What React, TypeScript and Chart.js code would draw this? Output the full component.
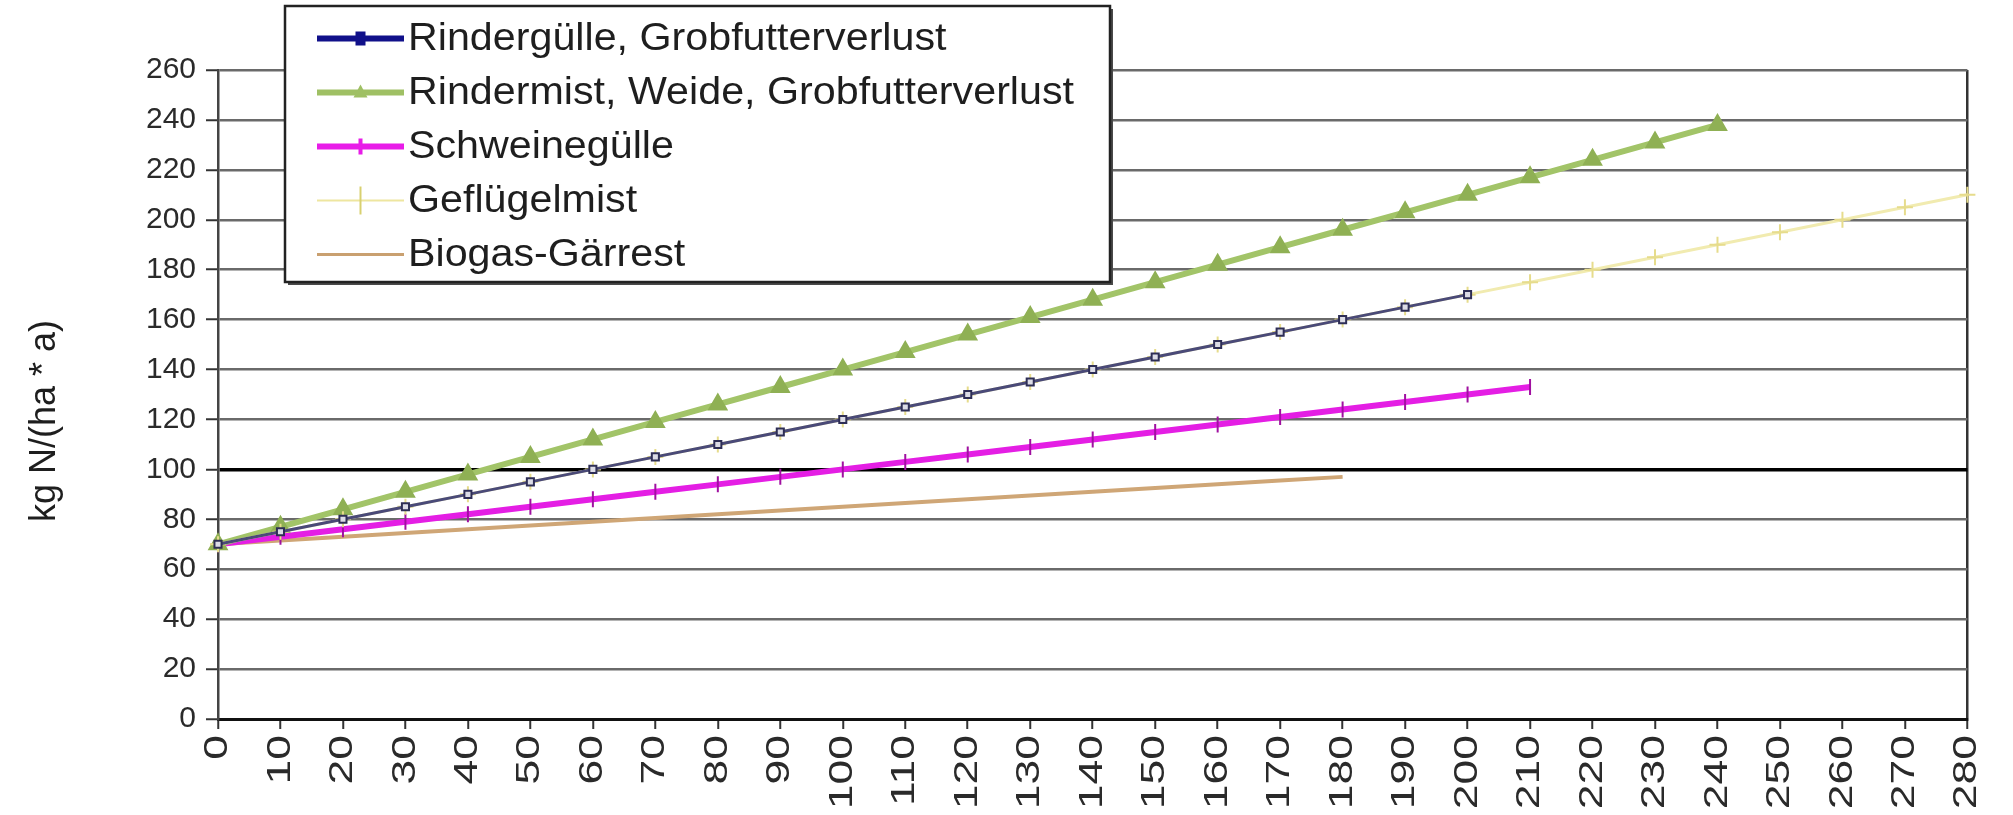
import React, { useEffect, useRef } from 'react';
import { Chart, registerables } from 'chart.js';

Chart.register(...registerables);

// ---------- data ----------
const xLabels = ['0', '10', '20', '30', '40', '50', '60', '70', '80', '90', '100', '110', '120', '130', '140', '150', '160', '170', '180', '190', '200', '210', '220', '230', '240', '250', '260', '270', '280'];

const rinderguelle = [70, 75, 80, 85, 90, 95, 100, 105, 110, 115, 120, 125, 130, 135, 140, 145, 150, 155, 160, 165, 170];
const rindermist = [70, 77, 84, 91, 98, 105, 112, 119, 126, 133, 140, 147, 154, 161, 168, 175, 182, 189, 196, 203, 210, 217, 224, 231, 238];
const schweineguelle = [70, 73, 76, 79, 82, 85, 88, 91, 94, 97, 100, 103, 106, 109, 112, 115, 118, 121, 124, 127, 130, 133];
const gefluegelmist = [70, 75, 80, 85, 90, 95, 100, 105, 110, 115, 120, 125, 130, 135, 140, 145, 150, 155, 160, 165, 170, 175, 180, 185, 190, 195, 200, 205, 210];
const biogas = [70, 71.5, 73, 74.5, 76, 77.5, 79, 80.5, 82, 83.5, 85, 86.5, 88, 89.5, 91, 92.5, 94, 95.5, 97];

const seriesNames = ['Rindergülle, Grobfutterverlust', 'Rindermist, Weide, Grobfutterverlust', 'Schweinegülle', 'Geflügelmist', 'Biogas-Gärrest'];

const yMin = 0;
const yMax = 260;
const yStep = 20;
const yTitle = 'kg N/(ha * a)';

const FONT = '"Liberation Sans", Arial, sans-serif';
const X_LABEL_STRETCH = 1.35;

// ---------- plugins ----------
const legendStyles = [
  { line: '#10108a', width: 6, marker: 'rect' },
  { line: '#9fc064', width: 6, marker: 'tri' },
  { line: '#e81ce8', width: 6, marker: 'vbar' },
  { line: '#eee6a0', width: 2, marker: 'cross' },
  { line: '#c9a070', width: 3, marker: 'none' },
];

const boxLegend = {
  id: 'boxLegend',
  afterDraw(chart: any) {
    const ctx = chart.ctx;
    const ca = chart.chartArea;
    const x0 = ca.left + 67;
    const y0 = 6;
    const w = 825;
    const h = 276;
    ctx.save();
    ctx.fillStyle = '#4a4a4a';
    ctx.fillRect(x0 + 3, y0 + 3, w, h);
    ctx.fillStyle = '#ffffff';
    ctx.fillRect(x0, y0, w, h);
    ctx.strokeStyle = '#222';
    ctx.lineWidth = 2.5;
    ctx.strokeRect(x0, y0, w, h);
    chart.data.datasets.forEach((ds: any, i: number) => {
      const st = legendStyles[i];
      const cy = y0 + 32.5 + i * 54;
      const lx1 = x0 + 32;
      const lx2 = x0 + 119;
      const mx = (lx1 + lx2) / 2;
      ctx.strokeStyle = st.line;
      ctx.lineWidth = st.width;
      ctx.beginPath();
      ctx.moveTo(lx1, cy);
      ctx.lineTo(lx2, cy);
      ctx.stroke();
      ctx.fillStyle = st.line;
      if (st.marker === 'rect') {
        ctx.fillRect(mx - 5, cy - 7, 10, 14);
      } else if (st.marker === 'tri') {
        ctx.beginPath();
        ctx.moveTo(mx, cy - 8);
        ctx.lineTo(mx + 7, cy + 5);
        ctx.lineTo(mx - 7, cy + 5);
        ctx.closePath();
        ctx.fill();
      } else if (st.marker === 'vbar') {
        ctx.fillRect(mx - 2, cy - 8, 4, 16);
      } else if (st.marker === 'cross') {
        ctx.lineWidth = 2;
        ctx.strokeStyle = '#d8d070';
        ctx.beginPath();
        ctx.moveTo(mx, cy - 14);
        ctx.lineTo(mx, cy + 14);
        ctx.stroke();
      }
      ctx.save();
      ctx.translate(x0 + 123, cy);
      ctx.scale(1.085, 1);
      ctx.font = `38px ${FONT}`;
      ctx.fillStyle = '#1e1e1e';
      ctx.textBaseline = 'middle';
      ctx.textAlign = 'left';
      ctx.fillText(ds.label, 0, 1);
      ctx.restore();
    });
    ctx.restore();
  },
};

const yTitlePlugin = {
  id: 'yTitlePlugin',
  afterDraw(chart: any) {
    const ctx = chart.ctx;
    ctx.save();
    ctx.translate(45, 421);
    ctx.rotate(-Math.PI / 2);
    ctx.font = `36px ${FONT}`;
    ctx.fillStyle = '#1e1e1e';
    ctx.textAlign = 'center';
    ctx.textBaseline = 'middle';
    ctx.fillText(yTitle, 0, 0);
    ctx.restore();
  },
};

// stretch the rotated x tick labels along their length
const xLabelStretch = {
  id: 'xLabelStretch',
  beforeDraw(chart: any) {
    const sx = chart.scales.x;
    if (!sx || sx.__stretched) return;
    const orig = sx.drawLabels;
    sx.drawLabels = function (ca: any) {
      const ctx = this.ctx;
      const y0 = this.top + 16;
      ctx.save();
      ctx.translate(0, y0);
      ctx.scale(1, X_LABEL_STRETCH);
      ctx.translate(0, -y0);
      orig.call(this, ca);
      ctx.restore();
    };
    sx.__stretched = true;
  },
};

export default function App() {
  const canvasRef = useRef<HTMLCanvasElement | null>(null);

  useEffect(() => {
    if (!canvasRef.current) return;
    const chart = new Chart(canvasRef.current, {
      type: 'line',
      data: {
        labels: xLabels,
        datasets: [
          {
            label: seriesNames[0],
            data: rinderguelle,
            borderColor: '#4a4a78',
            borderWidth: 3,
            pointStyle: 'rect',
            pointRadius: 5,
            pointBackgroundColor: '#dcdce6',
            pointBorderColor: '#2e2e55',
            pointBorderWidth: 2,
            order: 0,
          },
          {
            label: seriesNames[1],
            data: rindermist,
            borderColor: '#a2c468',
            borderWidth: 6,
            pointStyle: 'triangle',
            pointRadius: 6,
            pointBackgroundColor: '#8fb054',
            pointBorderColor: '#8fb054',
            order: 2,
          },
          {
            label: seriesNames[2],
            data: schweineguelle,
            borderColor: '#e41ee4',
            borderWidth: 6,
            pointStyle: 'line',
            pointRotation: 90,
            pointRadius: 8,
            pointBorderColor: '#a010a0',
            pointBorderWidth: 2,
            order: 3,
          },
          {
            label: seriesNames[3],
            data: gefluegelmist,
            borderColor: '#f1ebb0',
            borderWidth: 3,
            pointStyle: 'cross',
            pointRadius: 8,
            pointBorderColor: '#e6dc8c',
            pointBorderWidth: 2,
            order: 1,
          },
          {
            label: seriesNames[4],
            data: biogas,
            borderColor: '#cfa676',
            borderWidth: 4,
            pointRadius: 0,
            order: 4,
          },
        ],
      },
      options: {
        animation: false,
        responsive: true,
        maintainAspectRatio: false,
        layout: { padding: { top: 70, right: 26, left: 0, bottom: 0 } },
        plugins: {
          legend: { display: false },
          tooltip: { enabled: false },
          title: { display: false },
        },
        scales: {
          x: {
            type: 'category',
            offset: false,
            afterFit: (s: any) => {
              s.height = 96;
            },
            grid: {
              color: (c: any) => (c.index === xLabels.length - 1 ? '#333' : 'rgba(0,0,0,0)'),
              lineWidth: 2.5,
              tickColor: '#333',
              tickLength: 10,
              tickWidth: 2,
              drawTicks: true,
            },
            border: { color: '#111', width: 3 },
            ticks: {
              autoSkip: false,
              maxRotation: 90,
              minRotation: 90,
              padding: 6,
              color: '#2a2a2a',
              font: { family: FONT, size: 33 },
            },
          },
          y: {
            min: yMin,
            max: yMax,
            afterFit: (s: any) => {
              s.width = 218;
            },
            ticks: {
              stepSize: yStep,
              padding: 10,
              color: '#2a2a2a',
              font: { family: FONT, size: 30 },
            },
            grid: {
              color: (c: any) => (c.tick && c.tick.value === 100 ? '#000' : '#6a6a6a'),
              lineWidth: (c: any) => (c.tick && c.tick.value === 100 ? 3.5 : 2.5),
              tickColor: '#333',
              tickLength: 12,
              tickWidth: 2,
            },
            border: { color: '#444', width: 2.5 },
          },
        },
      },
      plugins: [xLabelStretch, boxLegend, yTitlePlugin],
    });
    return () => chart.destroy();
  }, []);

  return (
    <div style={{ position: 'absolute', left: 0, top: 0, width: 2013, height: 815, background: '#fff' }}>
      <canvas ref={canvasRef} />
    </div>
  );
}
